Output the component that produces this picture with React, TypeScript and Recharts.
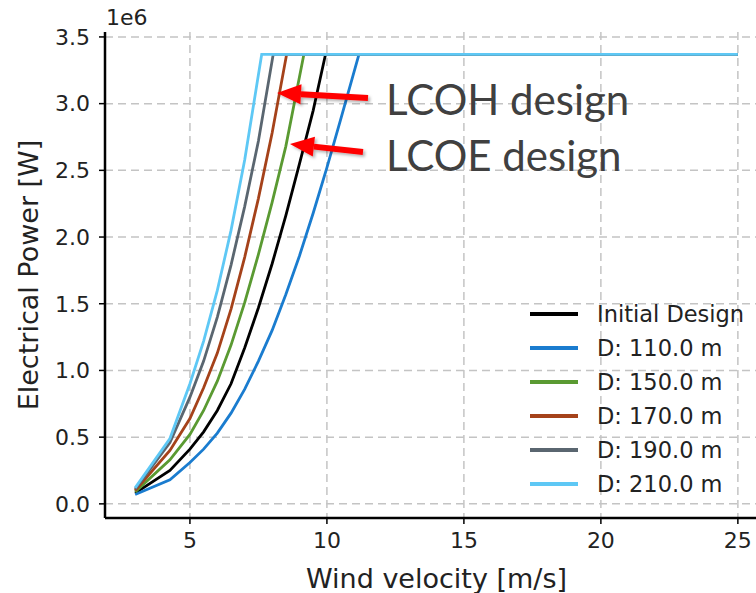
import { LineChart, Line, XAxis, YAxis, CartesianGrid } from "recharts";

// wind speed [m/s] and electrical power [W]
const velocityInitial = [3, 4.27, 5.0, 5.5, 6.0, 6.5, 7.0, 7.5, 8.0, 8.5, 9.0, 9.5, 9.95, 25];
const powerInitial = [0.08e6, 0.25e6, 0.41e6, 0.54e6, 0.7e6, 0.9e6, 1.17e6, 1.47e6, 1.8e6, 2.16e6, 2.55e6, 2.95e6, 3.37e6, 3.37e6];

const velocity110 = [3, 4.27, 5.0, 5.5, 6.0, 6.5, 7.0, 7.5, 8.0, 8.5, 9.0, 9.5, 10.0, 10.5, 11.17, 25];
const power110 = [0.07e6, 0.18e6, 0.31e6, 0.41e6, 0.53e6, 0.68e6, 0.86e6, 1.07e6, 1.3e6, 1.57e6, 1.86e6, 2.18e6, 2.52e6, 2.88e6, 3.37e6, 3.37e6];

const velocity150 = [3, 4.27, 5.0, 5.5, 6.0, 6.5, 7.0, 7.5, 8.0, 8.5, 9.16, 25];
const power150 = [0.09e6, 0.33e6, 0.52e6, 0.7e6, 0.92e6, 1.19e6, 1.51e6, 1.87e6, 2.26e6, 2.68e6, 3.37e6, 3.37e6];

const velocity170 = [3, 4.27, 5.0, 5.5, 6.0, 6.5, 7.0, 7.5, 8.0, 8.53, 25];
const power170 = [0.1e6, 0.4e6, 0.64e6, 0.87e6, 1.13e6, 1.46e6, 1.85e6, 2.29e6, 2.78e6, 3.37e6, 3.37e6];

const velocity190 = [3, 4.27, 5.0, 5.5, 6.0, 6.5, 7.0, 7.5, 8.04, 25];
const power190 = [0.11e6, 0.46e6, 0.8e6, 1.07e6, 1.4e6, 1.79e6, 2.23e6, 2.72e6, 3.37e6, 3.37e6];

const velocity210 = [3, 4.27, 5.0, 5.5, 6.0, 6.5, 7.0, 7.62, 25];
const power210 = [0.12e6, 0.49e6, 0.9e6, 1.22e6, 1.6e6, 2.05e6, 2.58e6, 3.37e6, 3.37e6];

const xTicks = [5, 10, 15, 20, 25];
const yTicks = [0, 0.5e6, 1.0e6, 1.5e6, 2.0e6, 2.5e6, 3.0e6, 3.5e6];

const toRows = (v: number[], p: number[]) => v.map((x, i) => ({ v: x, p: p[i] }));

const series = [
  { name: "Initial Design", color: "#000000", data: toRows(velocityInitial, powerInitial) },
  { name: "D: 110.0 m", color: "#1a7ccf", data: toRows(velocity110, power110) },
  { name: "D: 150.0 m", color: "#5a9a32", data: toRows(velocity150, power150) },
  { name: "D: 170.0 m", color: "#a5421a", data: toRows(velocity170, power170) },
  { name: "D: 190.0 m", color: "#5a6670", data: toRows(velocity190, power190) },
  { name: "D: 210.0 m", color: "#5ec8f5", data: toRows(velocity210, power210) },
];

const FONT = "'DejaVu Sans', sans-serif";
const xDomain = [1.9, 26.1];
const yDomain = [-0.106e6, 3.537e6];

function Arrow({ x1, y1, x2, y2 }: { x1: number; y1: number; x2: number; y2: number }) {
  const dx = x2 - x1;
  const dy = y2 - y1;
  const len = Math.hypot(dx, dy);
  const ux = dx / len;
  const uy = dy / len;
  const head = 24;
  const half = 10;
  const bx = x2 - ux * head;
  const by = y2 - uy * head;
  return (
    <g filter="url(#shadow)">
      <line x1={x1} y1={y1} x2={bx} y2={by} stroke="#ff0000" strokeWidth={6} />
      <polygon
        points={`${x2},${y2} ${bx - uy * half},${by + ux * half} ${bx + uy * half},${by - ux * half}`}
        fill="#ff0000"
      />
    </g>
  );
}

export default function App() {
  return (
    <div
      style={{
        position: "absolute",
        left: 0,
        top: 0,
        width: 756,
        height: 593,
        overflow: "hidden",
        background: "#fff",
      }}
    >
      <LineChart width={790} height={593} margin={{ top: 32, right: 22, bottom: 0, left: 0 }}>
        <CartesianGrid
          stroke="#c4c4c4"
          strokeWidth={1.5}
          strokeDasharray="8 5"
          verticalValues={xTicks}
          horizontalValues={yTicks}
        />
        <XAxis
          dataKey="v"
          type="number"
          domain={xDomain}
          ticks={xTicks}
          allowDataOverflow
          height={75}
          tickSize={6}
          tickMargin={8}
          tick={{ fontFamily: FONT, fontSize: 22, fill: "#222" }}
          tickLine={{ stroke: "#000", strokeWidth: 1.5 }}
          axisLine={{ stroke: "#000", strokeWidth: 2.5 }}
          label={{
            value: "Wind velocity [m/s]",
            position: "insideBottom",
            offset: 5,
            style: { fontFamily: FONT, fontSize: 27, fill: "#222" },
          }}
        />
        <XAxis
          xAxisId="top"
          orientation="top"
          type="number"
          domain={xDomain}
          allowDataOverflow
          height={0}
          tick={false}
          tickLine={false}
          axisLine={{ stroke: "#000", strokeWidth: 2.5 }}
        />
        <YAxis
          type="number"
          domain={yDomain}
          ticks={yTicks}
          allowDataOverflow
          width={105}
          tickSize={6}
          tickMargin={9}
          tickFormatter={(val: number) => (val / 1e6).toFixed(1)}
          tick={{ fontFamily: FONT, fontSize: 22, fill: "#222" }}
          tickLine={{ stroke: "#000", strokeWidth: 1.5 }}
          axisLine={{ stroke: "#000", strokeWidth: 2.5 }}
          label={{
            value: "Electrical Power [W]",
            angle: -90,
            position: "insideLeft",
            offset: 28,
            style: { fontFamily: FONT, fontSize: 27, fill: "#222", textAnchor: "middle" },
          }}
        />
        {series.map((s) => (
          <Line
            key={s.name}
            data={s.data}
            dataKey="p"
            name={s.name}
            type="linear"
            stroke={s.color}
            strokeWidth={2.8}
            dot={false}
            isAnimationActive={false}
          />
        ))}
      </LineChart>
      <div
        style={{
          position: "absolute",
          left: 530,
          top: 297,
          fontFamily: FONT,
          fontSize: 22.5,
          color: "#222",
          lineHeight: "34px",
        }}
      >
        {series.map((s) => (
          <div key={s.name} style={{ display: "flex", alignItems: "center", height: 34 }}>
            <div style={{ width: 48, height: 3.5, background: s.color, marginRight: 19 }} />
            <span>{s.name}</span>
          </div>
        ))}
      </div>
      <svg
        width={756}
        height={593}
        style={{ position: "absolute", left: 0, top: 0, pointerEvents: "none" }}
      >
        <defs>
          <filter id="shadow" x="-20%" y="-50%" width="140%" height="200%">
            <feDropShadow dx={2} dy={2} stdDeviation={1.5} floodColor="#000" floodOpacity={0.3} />
          </filter>
        </defs>
        <text x={106} y={25} fontFamily={FONT} fontSize={22} fill="#222">
          1e6
        </text>
        <Arrow x1={368} y1={98} x2={277} y2={93} />
        <Arrow x1={363} y1={152} x2={290} y2={144} />
        <text x={386} y={115} fontFamily="Lato, 'Open Sans', sans-serif" fontSize={42} fill="#404040">
          LCOH design
        </text>
        <text x={386} y={171} fontFamily="Lato, 'Open Sans', sans-serif" fontSize={42} fill="#404040">
          LCOE design
        </text>
      </svg>
    </div>
  );
}
